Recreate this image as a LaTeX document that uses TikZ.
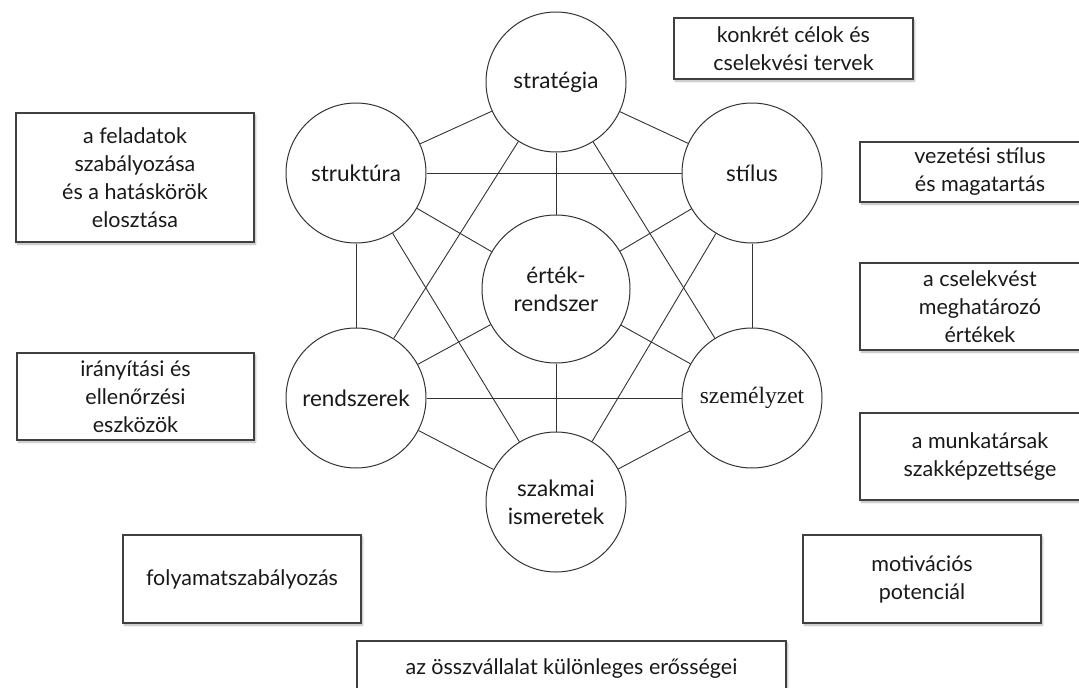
\documentclass[tikz,border=0pt]{standalone}
\usepackage{fontspec}
\setmainfont{Lato}
\newfontfamily\seriffam{Liberation Serif}
\usetikzlibrary{shadows.blur}

\begin{document}
\begin{tikzpicture}[x=1pt,y=-1pt,
  ring/.style={circle, draw=black!80, line width=1pt, minimum size=140pt,
    inner sep=0pt, align=center, fill=white,
    font=\fontsize{22.5}{28}\selectfont, text=black!90},
  note/.style={draw=black!75, line width=1.2pt, fill=white, align=center,
    inner sep=0pt, font=\fontsize{21.5}{28}\selectfont, text=black!90,
    blur shadow={shadow xshift=1.5pt, shadow yshift=-2pt,
      shadow blur steps=6, shadow opacity=30}},
  link/.style={draw=black!80, line width=0.9pt}]

\useasboundingbox (0,0) rectangle (1079,688);
\clip (0,0) rectangle (1079,688);

% the seven elements
\node[ring] (strat)   at (556,82)  {stratégia};
\node[ring] (strukt)  at (356,173) {struktúra};
\node[ring] (stilus)  at (752,173) {stílus};
\node[ring, minimum size=148pt] (ertek) at (556,289) {érték-\\rendszer};
\node[ring] (rendsz)  at (356,398) {rendszerek};
\node[ring, font=\seriffam\fontsize{23.5}{28}\selectfont] (szemely) at (752,398) {személyzet};
\node[ring] (szakmai) at (556,502) {szakmai\\ismeretek};

% every pair that is linked
\foreach \a/\b in {strat/strukt, strat/stilus, strat/ertek, strat/rendsz,
                   strat/szemely, strukt/stilus, strukt/ertek, strukt/rendsz,
                   strukt/szakmai, stilus/ertek, stilus/szemely, stilus/szakmai,
                   ertek/rendsz, ertek/szemely, ertek/szakmai, rendsz/szemely,
                   rendsz/szakmai, szemely/szakmai}
  \draw[link] (\a) -- (\b);

% descriptions
\node[note, minimum width=239pt, minimum height=61pt] (cel) at (793.5,48.5)
  {konkrét célok és\\cselekvési tervek};
\node[note, minimum width=238pt, minimum height=129pt] (feladat) at (135,177.5)
  {a feladatok\\szabályozása\\és a hatáskörök\\elosztása};
\node[note, minimum width=240pt, minimum height=60pt] (vezet) at (980,172)
  {vezetési stílus\\és magatartás};
\node[note, minimum width=240pt, minimum height=87pt] (ertekek) at (980,306.5)
  {a cselekvést\\meghatározó\\értékek};
\node[note, minimum width=237pt, minimum height=87pt] (iranyit) at (135.5,396.5)
  {irányítási és\\ellenőrzési\\eszközök};
\node[note, minimum width=240pt, minimum height=87pt] (munka) at (980,456.5)
  {a munkatársak\\szakképzettsége};
\node[note, minimum width=238pt, minimum height=88pt] (folyamat) at (242,579)
  {folyamatszabályozás};
\node[note, minimum width=238pt, minimum height=88pt] (motiv) at (922,579)
  {motivációs\\potenciál};
\node[note, minimum width=429pt, minimum height=56pt] (erosseg) at (571.5,669)
  {az összvállalat különleges erősségei};
\end{tikzpicture}
\end{document}
